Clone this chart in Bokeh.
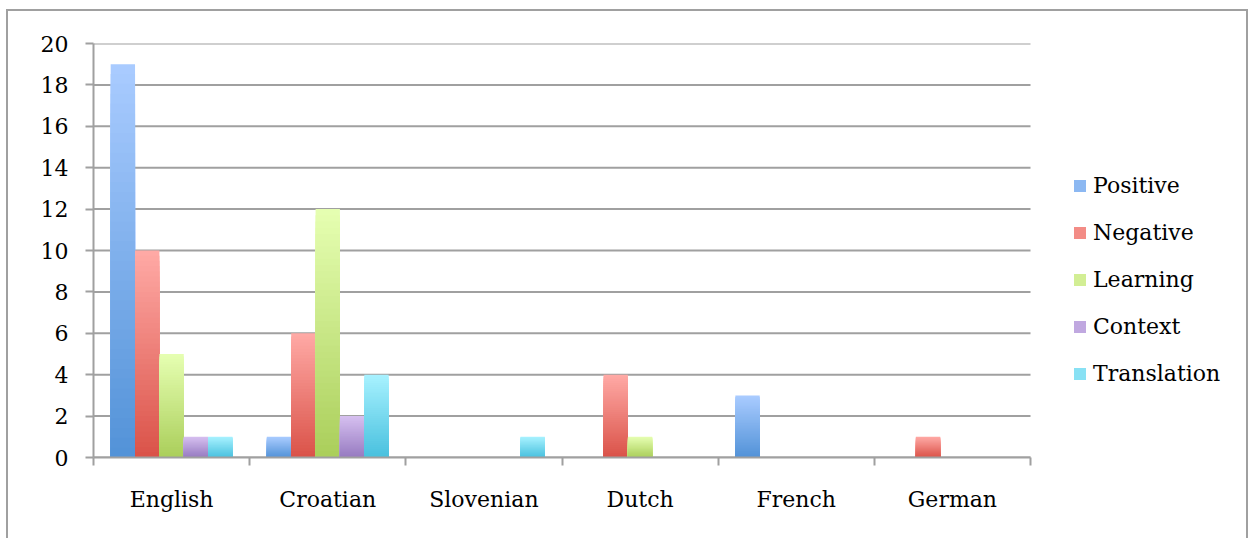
from bokeh.plotting import figure
from bokeh.models import (ColumnDataSource, FixedTicker, Legend, LegendItem,
                          Range1d)
from bokeh.embed import file_html
from bokeh.resources import INLINE

# ---- data ----
categories = ["English", "Croatian", "Slovenian", "Dutch", "French", "German"]
series = ["Positive", "Negative", "Learning", "Context", "Translation"]
positive = [19, 1, 0, 0, 3, 0]
negative = [10, 6, 0, 4, 0, 1]
learning = [5, 12, 0, 1, 0, 0]
context = [1, 2, 0, 0, 0, 0]
translation = [1, 4, 1, 0, 0, 0]
values = [positive, negative, learning, context, translation]
y_ticks = list(range(0, 21, 2))

# gradient colours: (top, bottom)
grad = [
    ((170, 204, 255), (82, 146, 216)),
    ((255, 170, 166), (218, 82, 72)),
    ((230, 255, 178), (170, 206, 90)),
    ((214, 192, 240), (150, 122, 192)),
    ((168, 242, 255), (72, 192, 222)),
]

FONT = "DejaVu Serif"
GRID = "#a0a0a0"
LW = 2

W, H = 1238, 527
BL, BR, BT, BB = 85, 0, 32, 81
PLOT_PX = 937  # pixel width of the category area
ncat = len(categories)
x_end = ncat * (W - BL - BR) / PLOT_PX

p = figure(width=W, height=H, output_backend="svg", toolbar_location=None,
           x_range=Range1d(0, x_end), y_range=Range1d(0, 20),
           min_border_left=BL, min_border_right=BR, min_border_top=BT,
           min_border_bottom=BB)
p.styles = {"margin-left": "8px", "margin-top": "11px",
            "outline": "2px solid #a0a0a0"}
p.outline_line_color = None
p.background_fill_color = "white"
p.border_fill_color = "white"

# horizontal grid lines limited to the category area
p.segment(x0=[0] * len(y_ticks), x1=[ncat] * len(y_ticks), y0=y_ticks,
          y1=y_ticks, line_color=GRID, line_width=LW)

bar_w = 0.156
gap = (1 - bar_w * len(series)) / 2
N = 40

def mix(c1, c2, t):
    r = [round(a + (b - a) * t) for a, b in zip(c1, c2)]
    return "#%02x%02x%02x" % tuple(r)

xs, tops, cols = [], [], []
legend_idx = []
for si, vals in enumerate(values):
    top_c, bot_c = grad[si]
    first = True
    for ci, v in enumerate(vals):
        if v <= 0:
            continue
        xc = ci + gap + bar_w * (si + 0.5)
        # tallest slice first; each shorter one covers the lower part
        for k in range(N - 1, -1, -1):
            if first and k == (2 * N) // 3:
                legend_idx.append(len(xs))
                first = False
            xs.append(xc)
            tops.append(v * (k + 1) / N)
            cols.append(mix(bot_c, top_c, (k + 0.5) / N))

src = ColumnDataSource(dict(x=xs, top=tops, color=cols))
bars = p.vbar(x="x", bottom=0, top="top", width=bar_w, fill_color="color",
              line_color=None, source=src)

items = [LegendItem(label=name, renderers=[bars], index=legend_idx[si])
         for si, name in enumerate(series)]

legend = Legend(items=items, location=(979, 71), orientation="vertical")
legend.border_line_color = None
legend.background_fill_alpha = 0
legend.padding = 0
legend.margin = 0
legend.glyph_width = 15
legend.glyph_height = 15
legend.label_standoff = 6
legend.spacing = 22
legend.label_text_font = FONT
legend.label_text_font_size = "22px"
legend.label_text_color = "black"
p.add_layout(legend)

# y axis
ya = p.yaxis[0]
ya.ticker = FixedTicker(ticks=y_ticks, minor_ticks=[])
ya.axis_line_color = GRID
ya.axis_line_width = LW
ya.major_tick_line_color = GRID
ya.major_tick_line_width = LW
ya.major_tick_in = 0
ya.major_tick_out = 8
ya.minor_tick_line_color = None
ya.major_label_text_font = FONT
ya.major_label_text_font_size = "22px"
ya.major_label_text_color = "black"
ya.major_label_standoff = 17

# x axis: labels at centres, ticks at boundaries
xa = p.xaxis[0]
centres = [i + 0.5 for i in range(ncat)]
xa.bounds = (0, ncat)
xa.ticker = FixedTicker(ticks=centres, minor_ticks=list(range(ncat + 1)))
xa.major_label_overrides = {c: name for c, name in zip(centres, categories)}
xa.axis_line_color = GRID
xa.axis_line_width = LW
xa.major_tick_line_color = None
xa.major_tick_in = 0
xa.major_tick_out = 0
xa.minor_tick_line_color = GRID
xa.minor_tick_line_width = LW
xa.minor_tick_in = 0
xa.minor_tick_out = 8
xa.major_label_text_font = FONT
xa.major_label_text_font_size = "22px"
xa.major_label_text_color = "black"
xa.major_label_standoff = 21

p.xgrid.grid_line_color = None
p.ygrid.grid_line_color = None

open("out.html", "w").write(file_html(p, INLINE))
